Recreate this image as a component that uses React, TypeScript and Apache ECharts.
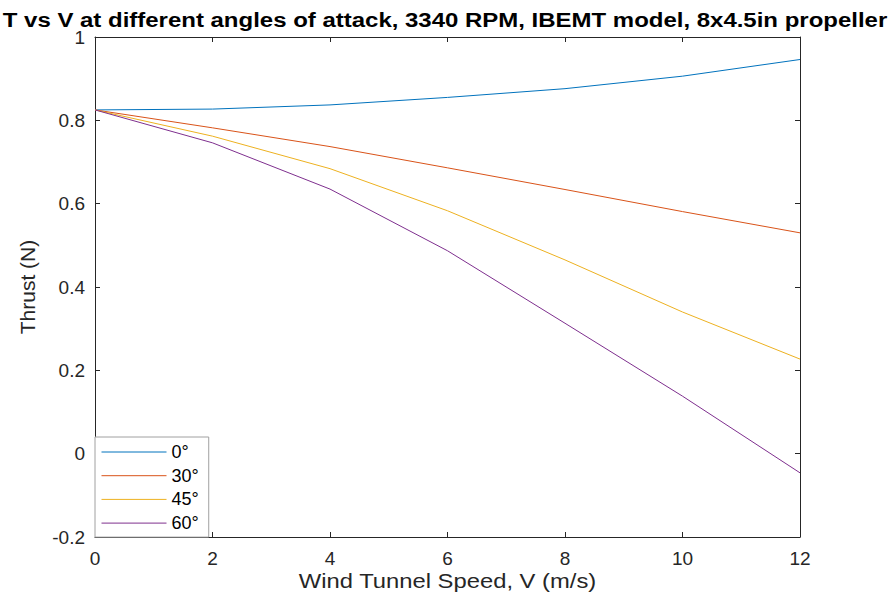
import React, { useEffect, useRef } from "react";
import * as echarts from "echarts";

// Wind tunnel speed (m/s)
const speeds = [0, 2, 4, 6, 8, 10, 12];

// Thrust (N) predicted by the IBEMT model at each angle of attack
const thrust0 = [0.825, 0.827, 0.837, 0.855, 0.876, 0.906, 0.946];
const thrust30 = [0.825, 0.782, 0.737, 0.686, 0.634, 0.581, 0.53];
const thrust45 = [0.825, 0.762, 0.684, 0.583, 0.465, 0.34, 0.227];
const thrust60 = [0.825, 0.746, 0.635, 0.487, 0.313, 0.138, -0.046];

const seriesNames = ["0°", "30°", "45°", "60°"];
const seriesColors = ["#0072BD", "#D95319", "#EDB120", "#7E2F8E"];
const seriesValues = [thrust0, thrust30, thrust45, thrust60];

const xTicks = { min: 0, max: 12, interval: 2 };
const yTicks = { min: -0.2, max: 1, interval: 0.2 };

const titleText = "T vs V at different angles of attack, 3340 RPM, IBEMT model, 8x4.5in propeller";
const xName = "Wind Tunnel Speed, V (m/s)";
const yName = "Thrust (N)";

const FONT = "Liberation Sans, Arial, Helvetica, sans-serif";
const AXIS_COLOR = "#262626";

// Plot box (pixels inside the 890x599 canvas)
const GRID = { left: 95, right: 90, top: 37, bottom: 62 };

export default function App() {
  const ref = useRef<HTMLDivElement>(null);

  useEffect(() => {
    if (!ref.current) return;
    const chart = echarts.init(ref.current, undefined, { renderer: "svg" });

    const fmtY = (v: number) => {
      const r = Math.round(v * 10) / 10;
      return r === 0 ? "0" : String(r);
    };

    const boxAxisLine = { show: true, onZero: false, lineStyle: { color: AXIS_COLOR, width: 1 } };
    const inTick = { show: true, inside: true, length: 5, lineStyle: { color: AXIS_COLOR, width: 1 } };
    const plotCenterX = GRID.left + (890 - GRID.left - GRID.right) / 2;
    const plotCenterY = GRID.top + (599 - GRID.top - GRID.bottom) / 2;

    chart.setOption({
      animation: false,
      backgroundColor: "#ffffff",
      grid: { ...GRID, containLabel: false },
      graphic: [
        {
          type: "text",
          x: 445,
          y: 20,
          scaleX: 1.23,
          style: {
            text: titleText,
            x: 0,
            y: 0,
            align: "center",
            verticalAlign: "middle",
            fontFamily: FONT,
            fontSize: 19.5,
            fontWeight: "bold",
            fill: "#000000",
          },
        },
        {
          type: "text",
          x: plotCenterX,
          y: 581,
          scaleX: 1.22,
          style: {
            text: xName,
            x: 0,
            y: 0,
            align: "center",
            verticalAlign: "middle",
            fontFamily: FONT,
            fontSize: 19.5,
            fill: AXIS_COLOR,
          },
        },
        {
          type: "text",
          x: 27,
          y: plotCenterY,
          rotation: Math.PI / 2,
          style: {
            text: yName,
            x: 0,
            y: 0,
            align: "center",
            verticalAlign: "middle",
            fontFamily: FONT,
            fontSize: 21,
            fill: AXIS_COLOR,
          },
        },
      ],
      legend: {
        orient: "vertical",
        left: 95,
        top: 437,
        padding: [6, 10, 5, 6],
        itemWidth: 65,
        itemHeight: 14,
        itemGap: 5.7,
        backgroundColor: "#ffffff",
        borderColor: "#a0a0a0",
        borderWidth: 1,
        itemStyle: { opacity: 0 },
        lineStyle: { width: 1 },
        textStyle: { fontFamily: FONT, fontSize: 18, color: "#000000" },
        data: seriesNames,
      },
      xAxis: [
        {
          type: "value",
          ...xTicks,
          position: "bottom",
          axisLine: boxAxisLine,
          axisTick: inTick,
          axisLabel: { fontFamily: FONT, fontSize: 19, color: AXIS_COLOR, margin: 12 },
          splitLine: { show: false },
        },
        {
          type: "value",
          ...xTicks,
          position: "top",
          axisLine: boxAxisLine,
          axisTick: inTick,
          axisLabel: { show: false },
          splitLine: { show: false },
        },
      ],
      yAxis: [
        {
          type: "value",
          ...yTicks,
          position: "left",
          axisLine: boxAxisLine,
          axisTick: inTick,
          axisLabel: { fontFamily: FONT, fontSize: 19, color: AXIS_COLOR, margin: 10, formatter: fmtY },
          splitLine: { show: false },
        },
        {
          type: "value",
          ...yTicks,
          position: "right",
          axisLine: boxAxisLine,
          axisTick: inTick,
          axisLabel: { show: false },
          splitLine: { show: false },
        },
      ],
      series: seriesNames.map((name, i) => ({
        name,
        type: "line",
        xAxisIndex: 0,
        yAxisIndex: 0,
        symbol: "none",
        showSymbol: false,
        color: seriesColors[i],
        lineStyle: { color: seriesColors[i], width: 1 },
        data: speeds.map((v, j) => [v, seriesValues[i][j]]),
      })),
    });

    return () => chart.dispose();
  }, []);

  return (
    <div
      ref={ref}
      style={{ position: "fixed", left: 0, top: 0, width: 890, height: 599 }}
    />
  );
}
